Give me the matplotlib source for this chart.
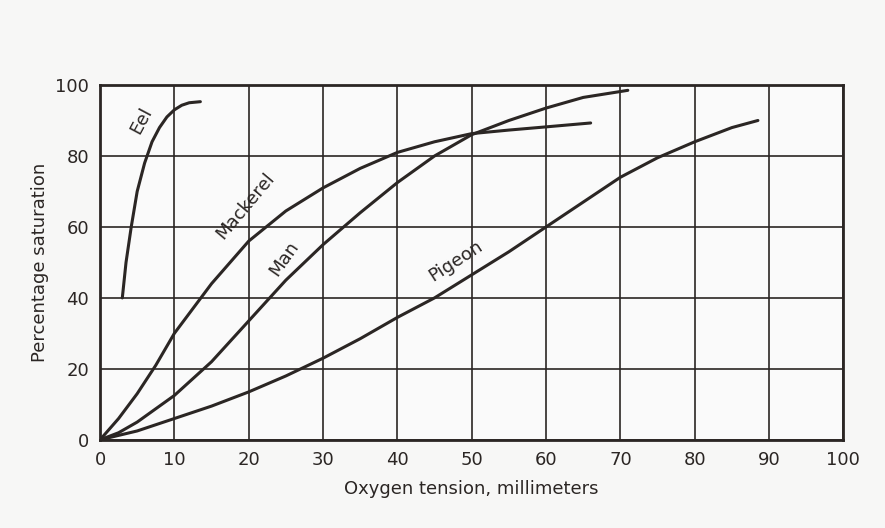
import matplotlib.pyplot as plt

# values
eel_x = [3, 3.5, 4.2, 5, 6, 7, 8, 9, 10, 11, 12, 13.5]
eel_y = [40, 50, 60, 70, 78, 84, 88, 91, 93, 94.3, 95, 95.3]

mackerel_x = [0, 2.5, 5, 7.5, 10, 15, 20, 25, 30, 35, 40, 45, 50, 55, 60, 66]
mackerel_y = [0, 6, 13, 21, 30, 44, 56, 64.5, 71, 76.5, 81, 84, 86.3, 87.3, 88.2, 89.3]

man_x = [0, 2.5, 5, 10, 15, 20, 25, 30, 35, 40, 45, 50, 55, 60, 65, 71]
man_y = [0, 2, 5, 12.5, 22, 33.5, 45, 55, 64, 72.5, 80, 86, 90, 93.5, 96.5, 98.5]

pigeon_x = [0, 5, 10, 15, 20, 25, 30, 35, 40, 45, 50, 55, 60, 65, 70, 75, 80, 85, 88.5]
pigeon_y = [0, 2.5, 6, 9.5, 13.5, 18, 23, 28.5, 34.5, 40, 46.5, 53, 60, 67, 74, 79.5, 84, 88, 90]

x_ticks = [0, 10, 20, 30, 40, 50, 60, 70, 80, 90, 100]
y_ticks = [0, 20, 40, 60, 80, 100]

ink = '#2b2624'

fig = plt.figure(figsize=(8.85, 5.28), dpi=100)
fig.patch.set_facecolor('#f7f7f6')
ax = fig.add_axes([0.113, 0.167, 0.84, 0.672])
ax.set_facecolor('#fafafa')

for xs, ys in [(eel_x, eel_y), (mackerel_x, mackerel_y), (man_x, man_y), (pigeon_x, pigeon_y)]:
    ax.plot(xs, ys, color=ink, lw=2.2, solid_capstyle='round')

ax.set_xlim(0, 100)
ax.set_ylim(0, 100)
ax.set_xticks(x_ticks)
ax.set_yticks(y_ticks)
ax.grid(True, color=ink, lw=1.2)
ax.tick_params(length=0, labelsize=13, colors=ink, pad=8)
for s in ax.spines.values():
    s.set_color(ink)
    s.set_linewidth(2)

ax.set_xlabel('Oxygen tension, millimeters', fontsize=13, color=ink, labelpad=8)
ax.set_ylabel('Percentage saturation', fontsize=13, color=ink, labelpad=4)

lab = dict(fontsize=13, color=ink, ha='center', va='center')
ax.text(5.6, 90, 'Eel', rotation=62, **lab)
ax.text(19.6, 66, 'Mackerel', rotation=50, **lab)
ax.text(24.7, 51, 'Man', rotation=55, **lab)
ax.text(47.8, 50.4, 'Pigeon', rotation=33, **lab)

fig.savefig('out.png', dpi=100, facecolor=fig.get_facecolor())
